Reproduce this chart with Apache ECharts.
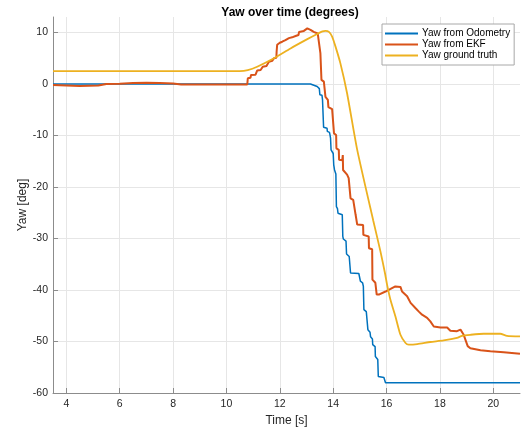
<!DOCTYPE html>
<html>
<head>
<meta charset="utf-8">
<script src="https://cdn.jsdelivr.net/npm/echarts@6/dist/echarts.min.js"></script>
<style>
  html, body { margin: 0; padding: 0; background: #fff; }
  #chart { width: 521px; height: 429px; }
</style>
</head>
<body>
<div id="chart"></div>
<script>
// 图例名称
const seriesNames = ['Yaw from Odometry', 'Yaw from EKF', 'Yaw ground truth']

// 里程计 [time, yaw]
const odometryData = [
  [3.5, 0], [13.15, 0], [13.2, -0.3], [13.4, -0.5], [13.42, -0.8], [13.48, -0.9],
  [13.5, -2.1], [13.58, -2.2], [13.6, -3.1], [13.62, -3.3], [13.64, -8.4], [13.77, -8.6],
  [13.78, -9.2], [13.86, -9.4], [13.88, -9.9], [13.9, -10.5], [13.92, -12.8], [14.0, -13.5],
  [14.02, -15.7], [14.05, -16.7], [14.1, -17.5], [14.12, -23.8], [14.16, -24.2], [14.18, -25.1],
  [14.34, -25.4], [14.36, -29.6], [14.38, -30.1], [14.48, -30.5], [14.5, -33], [14.6, -33.5],
  [14.65, -36.7], [14.96, -36.8], [15.02, -38.3], [15.1, -38.6], [15.13, -39.3], [15.15, -43.8],
  [15.24, -44.2], [15.3, -47.7], [15.38, -48.2], [15.4, -49.1], [15.47, -49.5], [15.48, -50.6],
  [15.57, -51], [15.58, -52.9], [15.67, -53.5], [15.69, -56.8], [15.9, -57], [15.96, -58], [21, -58]
]

// EKF [time, yaw]
const ekfData = [
  [3.5, -0.2], [4.0, -0.3], [4.5, -0.4], [5.2, -0.3], [5.5, 0], [6.0, 0.05], [6.5, 0.2],
  [7.0, 0.25], [7.5, 0.2], [8.0, 0.1], [8.3, -0.1], [10.78, -0.1], [10.8, 1.1], [10.9, 1.2],
  [10.92, 1.75], [11.09, 1.8], [11.1, 2.1], [11.15, 2.6], [11.28, 2.7], [11.3, 2.85],
  [11.36, 3.35], [11.5, 3.5], [11.52, 3.7], [11.59, 4.3], [11.72, 4.5], [11.74, 4.65],
  [11.78, 5.0], [11.87, 5.1], [11.88, 6.3], [11.9, 7.6], [12.0, 8.0], [12.09, 8.2],
  [12.21, 8.5], [12.34, 8.9], [12.46, 9.05], [12.59, 9.3], [12.7, 9.5], [12.72, 10.1],
  [12.9, 10.3], [13.03, 10.8], [13.15, 10.5], [13.27, 10.1], [13.42, 9.8], [13.48, 9.8],
  [13.52, 6], [13.56, 0.8], [13.65, 0.45], [13.71, -2.5], [13.8, -3.1], [13.82, -4.5],
  [13.96, -4.9], [14.02, -5.0], [14.03, -9.6], [14.11, -9.9], [14.12, -12.5], [14.21, -12.8],
  [14.22, -14.7], [14.34, -14.8], [14.36, -13.8], [14.37, -16.7], [14.52, -17.6], [14.58, -18.3],
  [14.65, -22.2], [14.75, -22.5], [14.84, -25.4], [14.9, -27.3], [15.12, -27.4], [15.13, -29.3],
  [15.33, -29.6], [15.34, -31.9], [15.46, -32.1], [15.47, -38], [15.58, -38.6], [15.62, -38.3],
  [15.63, -40.9], [15.71, -40.9], [15.77, -40.6], [15.96, -40.3], [16.15, -39.8], [16.33, -39.3],
  [16.52, -39.4], [16.58, -40.3], [16.77, -41.2], [16.9, -42.5], [17.08, -43.5], [17.21, -44.2],
  [17.33, -44.8], [17.52, -45.4], [17.64, -46.1], [17.77, -47.1], [18.02, -47.3], [18.27, -47.3],
  [18.39, -47.9], [18.64, -48.0], [18.77, -47.7], [18.89, -48.7], [19.04, -50.9], [19.14, -51.3],
  [19.52, -51.7], [19.89, -51.9], [20.39, -52.1], [21, -52.4]
]

// 真值 [time, yaw]
const groundTruthData = [
  [3.5, 2.5], [10.5, 2.5], [10.8, 2.7], [11.15, 3.35], [11.78, 5.0], [12.4, 6.9], [13.03, 8.7],
  [13.4, 9.7], [13.6, 10.2], [13.71, 10.3], [13.84, 10.1], [13.96, 9.2], [14.09, 7.2],
  [14.27, 4.0], [14.52, -1.8], [14.9, -12.8], [15.5, -26.5], [15.77, -32.5], [15.95, -37],
  [16.02, -39], [16.15, -42], [16.33, -45.1], [16.52, -48.7], [16.71, -50.3], [16.83, -50.6],
  [17.15, -50.5], [17.64, -50.1], [18.14, -49.8], [18.64, -49.3], [18.83, -48.9], [19.14, -48.7],
  [19.64, -48.5], [20.26, -48.5], [20.51, -48.9], [21, -49.0]
]

const colors = ['#0072BD', '#D95319', '#EDB120']
const font = 'Liberation Sans, Arial, Helvetica, sans-serif'

let mycharts = echarts.init(document.getElementById('chart'))
mycharts.setOption({
  animation: false,
  color: colors,
  title: {
    text: 'Yaw over time (degrees)',
    left: 285,
    top: 2,
    textAlign: 'center',
    textStyle: { fontFamily: font, fontSize: 12, fontWeight: 'bold', color: '#000' },
  },
  legend: {
    orient: 'vertical',
    left: 382,
    top: 24,
    padding: [4, 4, 4, 3],
    itemGap: 0,
    itemWidth: 33,
    itemHeight: 2,
    icon: 'rect',
    backgroundColor: '#fff',
    borderColor: '#a8a8a8',
    borderWidth: 1,
    borderRadius: 0,
    textStyle: { fontFamily: font, fontSize: 10, lineHeight: 11, color: '#000', padding: [0, 0, 0, -1] },
    data: seriesNames,
  },
  grid: {
    left: 53,
    right: 1,
    top: 17,
    bottom: 36,
    outerBoundsMode: 'none',
  },
  xAxis: {
    type: 'value',
    min: 3.5,
    max: 21,
    splitNumber: 9,
    name: 'Time [s]',
    nameLocation: 'middle',
    nameGap: 22,
    nameMoveOverlap: false,
    nameTextStyle: { fontFamily: font, fontSize: 12, color: '#262626' },
    axisLine: { show: true, onZero: false, lineStyle: { color: '#8c8c8c', width: 1 } },
    //刻度朝内
    axisTick: { show: true, inside: true, length: 5, lineStyle: { color: '#8c8c8c' } },
    axisLabel: {
      fontFamily: font, fontSize: 10.5, color: '#262626', margin: 6,
      showMinLabel: false, showMaxLabel: false,
    },
    splitLine: { show: true, showMinLine: false, showMaxLine: false, lineStyle: { color: '#e6e6e6', width: 1 } },
  },
  yAxis: {
    type: 'value',
    min: -60,
    max: 13,
    interval: 10,
    name: 'Yaw [deg]',
    nameLocation: 'middle',
    nameGap: 24,
    nameMoveOverlap: false,
    nameTextStyle: { fontFamily: font, fontSize: 12, color: '#262626' },
    axisLine: { show: true, lineStyle: { color: '#8c8c8c', width: 1 } },
    axisTick: { show: true, inside: true, length: 5, lineStyle: { color: '#8c8c8c' } },
    axisLabel: {
      fontFamily: font, fontSize: 10.5, color: '#262626', margin: 5,
      showMaxLabel: false,
    },
    splitLine: { show: true, showMinLine: false, showMaxLine: false, lineStyle: { color: '#e6e6e6', width: 1 } },
  },
  series: [
    { name: seriesNames[0], type: 'line', data: odometryData, symbol: 'none', lineStyle: { width: 1.5 } },
    { name: seriesNames[1], type: 'line', data: ekfData, symbol: 'none', lineStyle: { width: 2 } },
    { name: seriesNames[2], type: 'line', data: groundTruthData, symbol: 'none', smooth: 0.2, lineStyle: { width: 1.8 } },
  ],
})
</script>
</body>
</html>
